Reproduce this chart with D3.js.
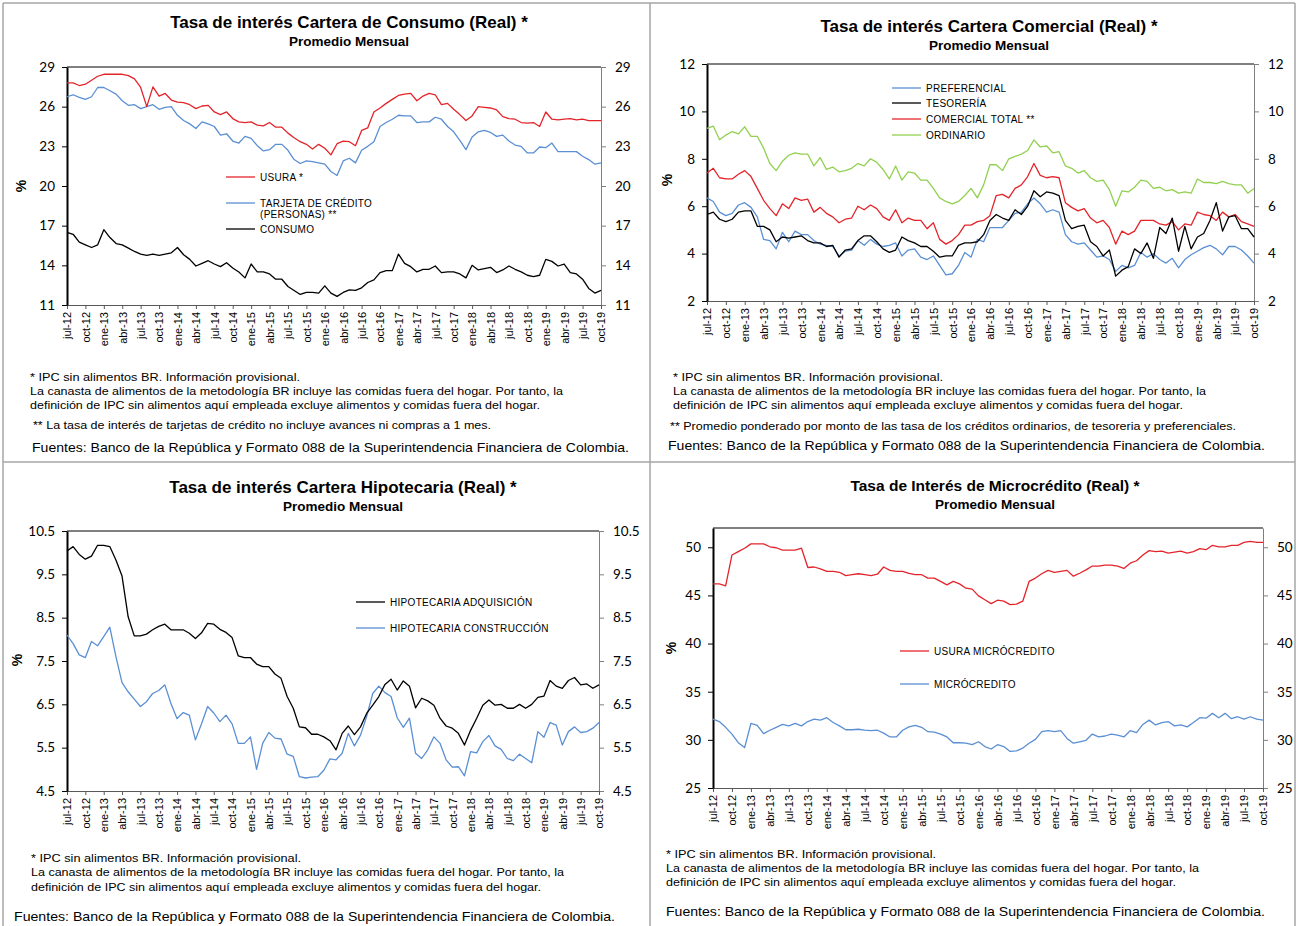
<!DOCTYPE html>
<html>
<head>
<meta charset="utf-8">
<script src="https://cdn.jsdelivr.net/npm/d3@7"></script>
<style>
  body { margin: 0; background: #fff; }
  svg text { fill: #000; }
</style>
</head>
<body>
<div id="chart"></div>
<script>
// etiquetas de meses (jul-12 .. oct-19)
const monthNames = ["ene", "feb", "mar", "abr", "may", "jun", "jul", "ago", "sep", "oct", "nov", "dic"];
const months = [];
for (let y = 2012, m = 6; y < 2019 || (y == 2019 && m <= 9);) {
  months.push(monthNames[m] + "-" + String(y).slice(2));
  m++;
  if (m > 11) { m = 0; y++; }
}

// Cartera de consumo
const consumoUsura = [27.8,27.8,27.6,27.7,28.0,28.3,28.45,28.45,28.45,28.45,
  28.35,28.1,27.45,26.0,27.5,26.8,27.0,26.5,26.35,26.3,
  26.15,25.85,26.05,26.1,25.6,25.4,25.6,25.1,24.85,24.8,
  24.85,24.6,24.55,24.8,24.45,24.45,24.0,23.65,23.35,23.15,
  22.8,23.15,22.85,22.35,23.2,23.4,23.35,23.05,24.2,24.4,
  25.6,25.9,26.25,26.55,26.85,26.95,27.0,26.45,26.8,27.0,
  26.9,26.15,26.25,25.8,25.4,24.95,25.3,26.0,25.95,25.9,
  25.75,25.25,25.1,25.05,24.8,24.75,24.8,24.5,25.6,25.05,
  25.0,25.05,25.1,25.0,25.05,24.95,24.95,24.95];
const consumoTarjeta = [26.75,26.9,26.7,26.55,26.75,27.45,27.45,27.2,26.95,26.45,
  26.1,26.15,25.85,26.0,26.15,25.8,25.95,26.0,25.35,24.95,
  24.7,24.35,24.85,24.7,24.5,23.85,23.95,23.4,23.25,23.75,
  23.6,23.05,22.65,22.75,23.15,23.15,22.7,22.0,21.7,21.9,
  21.85,21.75,21.65,21.1,20.8,21.9,22.1,21.75,22.7,23.0,
  23.35,24.5,24.8,25.05,25.35,25.3,25.3,24.8,24.85,24.85,
  25.2,25.05,24.5,24.1,23.45,22.75,23.7,24.1,24.2,24.05,
  23.75,23.85,23.4,23.1,23.0,22.5,22.5,22.95,22.9,23.25,
  22.6,22.6,22.6,22.6,22.25,22.0,21.65,21.75];
const consumoTotal = [16.5,16.35,15.75,15.55,15.35,15.55,16.7,16.1,15.65,15.55,
  15.3,15.05,14.85,14.75,14.85,14.75,14.85,14.95,15.35,14.8,
  14.45,13.95,14.15,14.35,14.1,13.9,14.2,13.8,13.5,13.05,
  14.1,13.5,13.5,13.35,12.95,12.95,12.4,12.1,11.8,11.95,
  11.95,11.9,12.45,11.9,11.65,11.95,12.15,12.1,12.3,12.7,
  12.9,13.45,13.6,13.6,14.85,14.15,13.9,13.5,13.7,13.7,
  13.95,13.45,13.5,13.5,13.35,13.05,14.0,13.65,13.75,13.85,
  13.45,13.65,13.95,13.7,13.5,13.25,13.15,13.25,14.45,14.3,
  13.95,14.1,13.45,13.35,12.95,12.25,11.9,12.1];

// Cartera comercial
const comPreferencial = [6.35,6.2,5.75,5.6,5.7,6.05,6.15,5.95,5.55,4.6,
  4.55,4.2,4.9,4.5,4.95,4.8,4.8,4.55,4.4,4.35,
  4.3,3.9,4.1,4.15,4.55,4.35,4.6,4.4,4.3,4.35,
  4.45,3.9,4.15,4.2,3.85,3.75,3.9,3.5,3.1,3.15,
  3.5,4.05,3.85,4.6,4.5,5.1,5.1,5.1,5.4,5.7,
  5.75,6.1,6.35,6.1,5.75,5.85,5.75,4.8,4.5,4.4,
  4.45,4.15,3.85,3.9,3.75,3.25,3.5,3.4,3.5,4.05,
  3.85,4.0,3.75,3.6,3.8,3.4,3.75,3.95,4.1,4.25,
  4.35,4.2,3.95,4.3,4.3,4.15,3.9,3.6];
const comTesoreria = [5.65,5.75,5.45,5.35,5.45,5.75,5.8,5.8,5.15,5.15,
  5.0,4.5,4.7,4.65,4.7,4.75,4.55,4.45,4.45,4.3,
  4.35,3.85,4.15,4.2,4.55,4.75,4.75,4.5,4.2,4.05,
  4.15,4.7,4.55,4.45,4.3,4.3,4.1,3.85,3.9,3.9,
  4.35,4.45,4.45,4.5,4.8,5.4,5.65,5.5,5.4,5.85,
  5.65,6.0,6.65,6.4,6.6,6.55,6.45,5.4,5.05,5.15,
  5.2,4.5,4.3,3.9,4.15,3.05,3.3,3.45,4.2,4.0,
  4.45,3.8,5.1,4.85,5.5,4.1,5.15,4.2,4.7,4.85,
  5.4,6.15,4.95,5.55,5.6,5.05,5.05,4.7];
const comTotal = [7.4,7.6,7.2,7.15,7.15,7.35,7.5,7.25,6.75,6.25,
  5.9,5.6,6.1,5.9,6.35,6.25,6.3,5.75,5.95,5.7,
  5.55,5.3,5.45,5.5,6.0,5.85,6.05,5.9,5.55,5.4,
  5.85,5.3,5.5,5.4,5.4,5.05,5.3,4.6,4.4,4.55,
  4.8,5.2,5.2,5.35,5.4,5.6,6.45,6.5,6.35,6.75,
  6.9,7.25,7.8,7.3,7.2,7.25,7.2,6.15,5.95,5.8,
  5.9,5.5,5.3,5.4,5.1,4.4,4.95,4.8,4.95,5.4,
  5.4,5.4,5.25,5.2,5.35,5.0,5.25,5.2,5.75,5.65,
  5.6,5.4,5.75,5.55,5.65,5.35,5.25,5.15];
const comOrdinario = [9.28,9.38,8.8,9.0,9.15,9.05,9.35,8.95,8.95,8.45,
  7.8,7.5,7.9,8.15,8.25,8.2,8.2,7.7,8.05,7.55,
  7.65,7.45,7.5,7.6,7.8,7.7,8.0,7.85,7.55,7.15,
  7.7,7.1,7.45,7.4,7.1,7.1,6.75,6.35,6.2,6.1,
  6.2,6.45,6.75,6.35,6.9,7.75,7.75,7.5,8.0,8.1,
  8.2,8.35,8.8,8.5,8.55,8.25,8.3,7.7,7.6,7.4,
  7.5,7.2,7.05,7.1,6.7,6.0,6.65,6.6,6.8,7.1,
  7.05,6.75,6.8,6.65,6.7,6.55,6.6,6.55,7.15,7.0,
  7.0,6.95,7.05,6.95,6.9,6.9,6.55,6.75];

// Cartera hipotecaria
const hipAdquisicion = [10.04,10.14,9.96,9.85,9.92,10.17,10.17,10.14,9.83,9.46,
  8.52,8.08,8.08,8.12,8.22,8.3,8.35,8.22,8.22,8.22,
  8.14,8.02,8.15,8.37,8.35,8.23,8.16,8.04,7.62,7.58,
  7.58,7.43,7.37,7.37,7.2,7.1,6.68,6.41,5.98,5.96,
  5.81,5.81,5.75,5.66,5.45,5.83,6.0,5.8,5.98,6.29,
  6.48,6.68,6.96,7.08,6.83,7.04,6.92,6.42,6.64,6.58,
  6.48,6.18,6.0,5.95,5.83,5.56,5.9,6.18,6.48,6.6,
  6.48,6.5,6.41,6.41,6.5,6.41,6.5,6.66,6.69,7.05,
  6.92,6.87,7.05,7.12,6.95,6.97,6.87,6.95];
const hipConstruccion = [8.1,7.9,7.64,7.58,7.95,7.85,8.06,8.28,7.6,7.0,
  6.79,6.62,6.45,6.56,6.75,6.82,6.95,6.52,6.17,6.31,
  6.25,5.68,6.05,6.45,6.3,6.1,6.25,6.05,5.6,5.6,
  5.75,5.0,5.6,5.85,5.72,5.7,5.35,5.3,4.83,4.8,
  4.82,4.83,4.98,5.24,5.22,5.37,5.83,5.54,5.79,6.22,
  6.75,6.92,6.77,6.68,6.19,5.97,6.18,5.37,5.25,5.45,
  5.75,5.6,5.22,5.05,5.06,4.85,5.41,5.38,5.64,5.78,
  5.54,5.46,5.25,5.2,5.35,5.25,5.15,5.87,5.74,6.08,
  6.02,5.56,5.87,5.98,5.85,5.87,5.95,6.08];

// Microcrédito
const microUsura = [46.2,46.2,46.0,49.2,49.55,49.9,50.35,50.35,50.35,50.05,
  49.95,49.7,49.7,49.7,49.9,47.9,47.95,47.75,47.5,47.5,
  47.4,47.05,47.15,47.25,47.15,47.05,47.2,47.95,47.6,47.5,
  47.5,47.3,47.15,47.15,46.8,46.8,46.45,46.1,46.45,46.2,
  45.75,45.65,44.95,44.55,44.15,44.5,44.4,44.05,44.1,44.4,
  46.45,46.8,47.25,47.6,47.4,47.5,47.6,47.0,47.3,47.65,
  48.05,48.05,48.15,48.15,48.05,47.8,48.35,48.6,49.2,49.65,
  49.55,49.6,49.4,49.5,49.6,49.4,49.55,49.85,49.75,50.2,
  50.05,50.05,50.2,50.2,50.5,50.6,50.5,50.5];
const microCredito = [32.15,31.9,31.3,30.6,29.7,29.2,31.7,31.5,30.65,31.0,
  31.3,31.6,31.45,31.7,31.45,31.9,32.15,32.05,32.3,31.8,
  31.45,31.05,31.05,31.1,31.0,30.95,31.0,30.7,30.3,30.3,
  31.0,31.35,31.5,31.3,30.85,30.8,30.6,30.3,29.7,29.7,
  29.65,29.5,29.8,29.3,29.05,29.5,29.3,28.8,28.85,29.15,
  29.65,30.05,30.85,30.95,30.85,30.95,30.15,29.65,29.8,29.95,
  30.6,30.3,30.4,30.6,30.5,30.3,30.95,30.75,31.6,32.05,
  31.55,31.8,31.9,31.45,31.55,31.35,31.8,32.3,32.25,32.75,
  32.3,32.75,32.2,32.4,32.15,32.4,32.15,32.05];

const RED = "#e3242b", BLUE = "#5b8fd4", GREEN = "#92d050", BLACK = "#000";
const NOTE1 = "* IPC  sin alimentos  BR.   Información provisional.";
const NOTE2 = "La canasta de alimentos  de la metodología  BR incluye las comidas fuera del hogar. Por tanto, la";
const NOTE3 = "definición de IPC  sin alimentos  aquí empleada excluye alimentos y comidas fuera del hogar.";
const FUENTES = "Fuentes: Banco de la República y Formato 088 de la Superintendencia Financiera de Colombia.";

const W = 1297, H = 926;
const svg = d3.select("#chart").append("svg")
  .attr("width", W).attr("height", H)
  .style("font-family", "'Liberation Sans', Arial, sans-serif");

// marcos de los paneles
const frame = svg.append("g").attr("stroke", "#a6a6a6").attr("stroke-width", 1.5);
[[3, 3, 1295, 3], [3, 3, 3, 926], [1295, 3, 1295, 926], [650, 3, 650, 926], [3, 462, 1295, 462]]
  .forEach(function(l) {
    frame.append("line").attr("x1", l[0]).attr("y1", l[1]).attr("x2", l[2]).attr("y2", l[3]);
  });

function drawPanel(p) {
  let g = svg.append("g");

  // títulos
  g.append("text").attr("x", p.titleX).attr("y", p.titleY)
    .attr("text-anchor", "middle").attr("font-weight", "bold").attr("font-size", p.titleSize || 17)
    .text(p.title);
  g.append("text").attr("x", p.titleX).attr("y", p.titleY + 18)
    .attr("text-anchor", "middle").attr("font-weight", "bold").attr("font-size", 13.5)
    .text(p.subtitle);

  let x = d3.scalePoint().domain(d3.range(months.length)).range([p.x0, p.x1]);
  let y = d3.scaleLinear().domain(p.yDomain).range([p.y1, p.y0]);

  // borde superior
  g.append("line").attr("x1", p.x0).attr("x2", p.x1).attr("y1", p.y0).attr("y2", p.y0)
    .attr("stroke", "#000").attr("stroke-width", 1);

  // eje derecho
  let yr = g.append("g").attr("transform", "translate(" + p.x1 + ",0)")
    .call(d3.axisRight(y).tickValues(p.yTicks).tickSize(5).tickPadding(9).tickFormat(p.fmt).tickSizeOuter(0));
  yr.select(".domain").attr("stroke", "#7f7f7f");
  yr.selectAll(".tick line").attr("stroke", "#7f7f7f");

  // eje inferior
  let xa = g.append("g").attr("transform", "translate(0," + p.y1 + ")")
    .call(d3.axisBottom(x).tickValues(d3.range(0, months.length, 3)).tickSize(4).tickSizeOuter(0)
      .tickFormat(function(i) { return months[i]; }));
  xa.select(".domain").attr("stroke", "#595959");
  xa.selectAll(".tick line").attr("stroke", "#595959");
  xa.selectAll(".tick text")
    .attr("font-family", "'Liberation Sans', Arial, sans-serif").attr("font-size", 11)
    .attr("transform", "rotate(-90)").attr("text-anchor", "end")
    .attr("x", -7).attr("y", 0).attr("dy", "0.35em");

  // eje izquierdo
  let yl = g.append("g").attr("transform", "translate(" + p.x0 + ",0)")
    .call(d3.axisLeft(y).tickValues(p.yTicks).tickSize(5).tickPadding(7).tickFormat(p.fmt).tickSizeOuter(0));
  yl.select(".domain").attr("stroke", "#000").attr("stroke-width", 2);
  yl.selectAll(".tick line").attr("stroke", "#000");
  [yl, yr].forEach(function(a) {
    a.selectAll(".tick text").attr("font-family", "Lato, 'Open Sans', sans-serif").attr("font-size", 13.5);
  });

  // etiqueta %
  g.append("text").attr("transform", "translate(" + p.pctX + "," + p.pctY + ") rotate(-90)")
    .attr("text-anchor", "middle").attr("font-weight", "bold").attr("font-size", 14).text("%");

  // series
  let line = d3.line().x(function(d, i) { return x(i); }).y(function(d) { return y(d); });
  p.series.forEach(function(s) {
    g.append("path").datum(s.values).attr("d", line)
      .attr("fill", "none").attr("stroke", s.color).attr("stroke-width", 1.3)
      .attr("stroke-linejoin", "round");
  });

  // leyenda
  p.legend.forEach(function(l) {
    g.append("line").attr("x1", p.legX).attr("x2", p.legX + 29).attr("y1", l.y).attr("y2", l.y)
      .attr("stroke", l.color).attr("stroke-width", 1.3);
    l.text.forEach(function(t, k) {
      g.append("text").attr("x", p.legX + 34).attr("y", l.y + 4 + k * 11)
        .attr("font-size", 10).attr("letter-spacing", 0.3).text(t);
    });
  });

  // notas
  p.notes.forEach(function(n) {
    g.append("text").attr("x", n.x).attr("y", n.y)
      .attr("font-family", "'Liberation Sans Narrow', 'Liberation Sans', Arial, sans-serif")
      .attr("font-size", n.size || 11.5)
      .attr("textLength", n.w).attr("lengthAdjust", "spacingAndGlyphs")
      .text(n.t);
  });
}

drawPanel({
  title: "Tasa de interés Cartera de Consumo (Real) *", subtitle: "Promedio  Mensual",
  titleX: 349, titleY: 28,
  x0: 67, x1: 601, y0: 67, y1: 305, yDomain: [11, 29], yTicks: [11, 14, 17, 20, 23, 26, 29],
  fmt: d3.format("d"), pctX: 26, pctY: 186,
  series: [
    { values: consumoTotal, color: BLACK },
    { values: consumoTarjeta, color: BLUE },
    { values: consumoUsura, color: RED }
  ],
  legX: 226,
  legend: [
    { y: 177, color: RED, text: ["USURA *"] },
    { y: 203, color: BLUE, text: ["TARJETA DE CRÉDITO", "(PERSONAS) **"] },
    { y: 229, color: BLACK, text: ["CONSUMO"] }
  ],
  notes: [
    { x: 30, y: 381, t: NOTE1, w: 270 },
    { x: 30, y: 395, t: NOTE2, w: 533 },
    { x: 30, y: 409, t: NOTE3, w: 510 },
    { x: 33, y: 429, t: "** La tasa de interés de tarjetas de crédito no incluye avances ni compras a 1 mes.", w: 458 },
    { x: 32, y: 452, t: FUENTES, w: 597, size: 13 }
  ]
});

drawPanel({
  title: "Tasa de interés Cartera Comercial (Real) *", subtitle: "Promedio Mensual",
  titleX: 989, titleY: 32,
  x0: 707, x1: 1254, y0: 64, y1: 301, yDomain: [2, 12], yTicks: [2, 4, 6, 8, 10, 12],
  fmt: d3.format("d"), pctX: 672, pctY: 180,
  series: [
    { values: comOrdinario, color: GREEN },
    { values: comTotal, color: RED },
    { values: comPreferencial, color: BLUE },
    { values: comTesoreria, color: BLACK }
  ],
  legX: 892,
  legend: [
    { y: 88, color: BLUE, text: ["PREFERENCIAL"] },
    { y: 103, color: BLACK, text: ["TESORERÍA"] },
    { y: 119, color: RED, text: ["COMERCIAL TOTAL **"] },
    { y: 135, color: GREEN, text: ["ORDINARIO"] }
  ],
  notes: [
    { x: 673, y: 381, t: NOTE1, w: 270 },
    { x: 673, y: 395, t: NOTE2, w: 533 },
    { x: 673, y: 409, t: NOTE3, w: 510 },
    { x: 670, y: 430, t: "** Promedio  ponderado por monto de las tasa de los créditos ordinarios, de tesoreria y preferenciales.", w: 566 },
    { x: 668, y: 450, t: FUENTES, w: 597, size: 13 }
  ]
});

drawPanel({
  title: "Tasa de interés Cartera Hipotecaria (Real) *", subtitle: "Promedio Mensual",
  titleX: 343, titleY: 493,
  x0: 67, x1: 599, y0: 531, y1: 791, yDomain: [4.5, 10.5], yTicks: [4.5, 5.5, 6.5, 7.5, 8.5, 9.5, 10.5],
  fmt: d3.format(".1f"), pctX: 22, pctY: 660,
  series: [
    { values: hipConstruccion, color: BLUE },
    { values: hipAdquisicion, color: BLACK }
  ],
  legX: 356,
  legend: [
    { y: 602, color: BLACK, text: ["HIPOTECARIA ADQUISICIÓN"] },
    { y: 628, color: BLUE, text: ["HIPOTECARIA CONSTRUCCIÓN"] }
  ],
  notes: [
    { x: 31, y: 862, t: NOTE1, w: 270 },
    { x: 31, y: 876, t: NOTE2, w: 533 },
    { x: 31, y: 891, t: NOTE3, w: 510 },
    { x: 14, y: 921, t: FUENTES, w: 601, size: 13 }
  ]
});

drawPanel({
  title: "Tasa de Interés de Microcrédito (Real) *", subtitle: "Promedio Mensual",
  titleX: 995, titleY: 491, titleSize: 15.5,
  x0: 713, x1: 1263, y0: 528, y1: 788, yDomain: [25, 52], yTicks: [25, 30, 35, 40, 45, 50],
  fmt: d3.format("d"), pctX: 676, pctY: 648,
  series: [
    { values: microCredito, color: BLUE },
    { values: microUsura, color: RED }
  ],
  legX: 900,
  legend: [
    { y: 651, color: RED, text: ["USURA MICRÓCREDITO"] },
    { y: 684, color: BLUE, text: ["MICRÓCREDITO"] }
  ],
  notes: [
    { x: 666, y: 858, t: NOTE1, w: 270 },
    { x: 666, y: 872, t: NOTE2, w: 533 },
    { x: 666, y: 886, t: NOTE3, w: 510 },
    { x: 666, y: 916, t: FUENTES, w: 599, size: 13 }
  ]
});
</script>
</body>
</html>
